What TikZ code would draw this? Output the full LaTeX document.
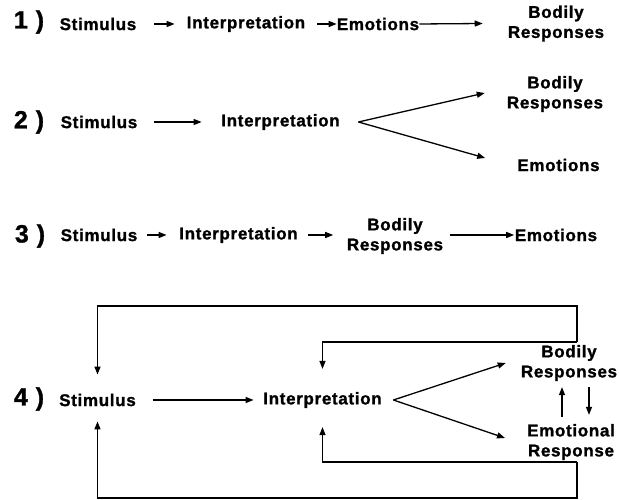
\documentclass[tikz,border=0pt]{standalone}
\usepackage{fontspec}
\setmainfont{Liberation Sans}[LetterSpace=4, BoldFeatures={FakeBold=1.2}]
\usetikzlibrary{arrows.meta}
\begin{document}
\begin{tikzpicture}[x=1pt,y=1pt,
  lbl/.style={inner sep=0pt, font=\fontsize{17}{20}\selectfont\bfseries, align=center},
  num/.style={inner sep=0pt, font=\fontsize{25}{25}\selectfont\bfseries},
  arr/.style={line width=1.3pt, -{Triangle[length=8pt,width=6pt]}}]
\fill[white] (0,0) rectangle (619,500);
\useasboundingbox (0,0) rectangle (619,500);

% Row 1
\node[num] (n1) at (29,478) {1 )};
\node[lbl] (s1) at (98,476) {Stimulus};
\node[lbl] (i1) at (246,476) {Interpretation};
\node[lbl] (e1) at (378,476) {Emotions};
\node[lbl] (b1) at (556,476.5) {Bodily\\Responses};
\draw[arr] ([xshift=18pt]s1.east) -- ([xshift=-12pt]i1.west);
\draw[arr] ([xshift=12pt]i1.east) -- ([xshift=0pt]e1.west);
\draw[arr] ([xshift=0pt]e1.east) -- ([xshift=-25pt]b1.west);

% Row 2
\node[num] (n2) at (29,378) {2 )};
\node[lbl] (s2) at (99,378) {Stimulus};
\node[lbl] (i2) at (280.5,378) {Interpretation};
\node[lbl] (b2) at (555,406) {Bodily\\Responses};
\node[lbl] (e2) at (558.5,335) {Emotions};
\coordinate (v2) at ([xshift=18.5pt]i2.east);
\draw[arr] ([xshift=17pt]s2.east) -- ([xshift=-19.5pt]i2.west);
\draw[arr] (v2) -- ([xshift=-22pt,yshift=1pt]b2.west);
\draw[arr] (v2) -- ([xshift=-32pt,yshift=7pt]e2.west);

% Row 3
\node[num] (n3) at (30,264) {3 )};
\node[lbl] (s3) at (99,265) {Stimulus};
\node[lbl] (i3) at (238.5,265) {Interpretation};
\node[lbl] (b3) at (395,264) {Bodily\\Responses};
\node[lbl] (e3) at (556,265) {Emotions};
\draw[arr] ([xshift=9.5pt]s3.east) -- ([xshift=-12.5pt]i3.west);
\draw[arr] ([xshift=10.5pt]i3.east) -- ([xshift=-13.5pt,yshift=1pt]b3.west);
\draw[arr] ([xshift=6.5pt,yshift=1pt]b3.east) -- ([xshift=-0.5pt]e3.west);

% Row 4
\node[num] (n4) at (29,101) {4 )};
\node[lbl] (s4) at (97.5,100) {Stimulus};
\node[lbl] (i4) at (322.5,100) {Interpretation};
\node[lbl] (b4) at (569,137) {Bodily\\Responses};
\node[lbl] (e4) at (571,58) {Emotional\\Response};
\coordinate (v4) at ([xshift=11.5pt]i4.east);
\draw[arr] ([xshift=17pt]s4.east) -- ([xshift=-9.5pt]i4.west);
\draw[arr] (v4) -- ([xshift=-15pt]b4.west);
\draw[arr] (v4) -- ([xshift=-22pt,yshift=4pt]e4.west);
\draw[arr] ([xshift=-9pt,yshift=7pt]e4.north) -- ([xshift=-7pt,yshift=-6pt]b4.south);
\draw[arr] ([xshift=20pt,yshift=-6pt]b4.south) -- ([xshift=18pt,yshift=9pt]e4.north);

% feedback loops
\coordinate (ft) at (577,158);
\coordinate (fb) at (577,38);
\draw[arr] (ft) -- ++(0,36) -| ([yshift=19pt]s4.north);
\draw[arr] (ft) -| ([yshift=23pt]i4.north);
\draw[arr] (fb) -- ++(0,-36) -| ([yshift=-15pt]s4.south);
\draw[arr] (fb) -| ([yshift=-19pt]i4.south);
\end{tikzpicture}
\end{document}
